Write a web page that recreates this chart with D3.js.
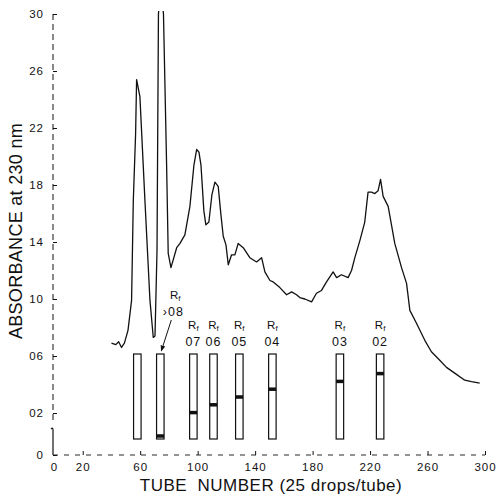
<!DOCTYPE html>
<html>
<head>
<meta charset="utf-8">
<script src="https://cdn.jsdelivr.net/npm/d3@7"></script>
<style>
  body { margin: 0; background: #fff; }
  text { font-family: "Liberation Sans", Arial, Helvetica, sans-serif; fill: #111; }
</style>
</head>
<body>
<svg id="chart" width="496" height="498"></svg>
<script>
// Elution profile: absorbance at 230 nm against tube number
const tubeNumber = [
  40, 43, 45, 47, 49, 51.5, 54, 55.2, 56.8, 57.5, 59.8, 63.3, 66.8, 69.1, 70.3,
  71.7, 72.7, 74.4, 76.2, 78.4, 79.5, 81.4, 85.4, 87.7, 91.1, 94.6, 97.4, 99.3,
  100.9, 102.3, 104.3, 105.7, 107.8, 109.9, 112, 114.3, 116.2, 117.8, 119.7,
  121.3, 123.6, 125.9, 128.2, 131.7, 136.3, 141, 144.5, 146.8, 150.3, 152.6,
  157.2, 161.9, 165.4, 168.8, 171.1, 174.6, 179.3, 182.7, 186.2, 189.7, 194.3,
  196.7, 200.1, 204.7, 207.1, 209.4, 212.9, 216.3, 218.6, 221, 223.3, 225.6,
  227.3, 229.1, 232.6, 237.2, 241.9, 245.4, 247.7, 252.3, 258.1, 262.7, 268.5,
  273.2, 278.9, 285.9, 290.6, 296.3
];
const absorbance = [
  0.69, 0.68, 0.70, 0.66, 0.69, 0.78, 0.99, 1.69, 2.16, 2.54, 2.42, 1.69, 0.99, 0.73, 0.74,
  1.34, 3.00, 3.20, 3.00, 1.93, 1.32, 1.22, 1.36, 1.39, 1.45, 1.65, 1.94, 2.05,
  2.03, 1.94, 1.62, 1.52, 1.54, 1.73, 1.82, 1.79, 1.59, 1.44, 1.38,
  1.24, 1.31, 1.31, 1.39, 1.36, 1.29, 1.26, 1.29, 1.19, 1.13, 1.12,
  1.08, 1.03, 1.05, 1.03, 1.01, 1.00, 0.98, 1.04, 1.06, 1.12, 1.19,
  1.15, 1.17, 1.15, 1.20, 1.29, 1.41, 1.54, 1.75, 1.75, 1.74, 1.76,
  1.84, 1.72, 1.65, 1.39, 1.22, 1.11, 0.92, 0.83, 0.71, 0.63, 0.57,
  0.52, 0.48, 0.43, 0.42, 0.41
];

// Polyacrylamide gels run on pooled fractions
const gelTube = [58, 74, 97, 111, 129, 152, 199, 227];
const gelRf = [null, 1.0, 0.7, 0.6, 0.5, 0.4, 0.3, 0.2];
const gelRfLabel = ["", "\u203a08", "07", "06", "05", "04", "03", "02"];

// Axis ticks and labels
const xTicks = [0, 20, 60, 100, 140, 180, 220, 260, 300];
const yTicks = [0, 0.2, 0.6, 1.0, 1.4, 1.8, 2.2, 2.6, 3.0];
const xTitle = "TUBE  NUMBER (25 drops/tube)";
const yTitle = "ABSORBANCE at 230 nm";

const svg = d3.select("#chart");

const x = d3.scaleLinear().domain([0, 300]).range([54, 485]);
// broken axis: 0 sits below the break, 0.2..3.0 above it
const y = d3.scaleLinear().domain([0, 0.2, 3.0]).range([455, 413, 14]);
// position of a band along a gel tube (origin at top)
const rfScale = d3.scaleLinear().domain([0, 1]).range([358, 436]);

const axisX0 = 53;
const ink = "#111";

// ---- y axis ----
const yAxis = d3.axisLeft(y)
  .tickValues(yTicks)
  .tickSizeInner(-4)
  .tickSizeOuter(0)
  .tickPadding(9)
  .tickFormat(v => v === 0 ? "0" : d3.format("02")(Math.round(v * 10)));
const gy = svg.append("g").attr("transform", `translate(${axisX0},0)`).call(yAxis);
gy.select(".domain").remove();
gy.selectAll(".tick line").attr("stroke", ink).attr("stroke-width", 1);
gy.selectAll(".tick text").attr("font-size", 11.5).attr("letter-spacing", 1)
  .style("font-family", "'Liberation Sans', Arial, sans-serif").attr("fill", ink);

// dashed upper part of the axis, break, solid lower part
svg.append("line")
  .attr("x1", axisX0).attr("x2", axisX0)
  .attr("y1", y(3.0)).attr("y2", 424)
  .attr("stroke", ink).attr("stroke-width", 1)
  .attr("stroke-dasharray", "6,4");
svg.append("path")
  .attr("d", `M${axisX0 - 2},429 Q${axisX0},427 ${axisX0},430 L${axisX0},${y(0)}`)
  .attr("fill", "none").attr("stroke", ink).attr("stroke-width", 1.2);

// ---- x axis ----
const xAxis = d3.axisBottom(x)
  .tickValues(xTicks)
  .tickSizeInner(-4)
  .tickSizeOuter(0)
  .tickPadding(8)
  .tickFormat(d3.format("d"));
const gx = svg.append("g").attr("transform", `translate(0,${y(0)})`).call(xAxis);
gx.select(".domain").remove();
gx.selectAll(".tick line").attr("stroke", ink).attr("stroke-width", 1)
  .attr("display", d => d === 0 ? "none" : null);
gx.selectAll(".tick text").attr("font-size", 11.5).attr("letter-spacing", 1)
  .style("font-family", "'Liberation Sans', Arial, sans-serif").attr("fill", ink);
svg.append("line")
  .attr("x1", axisX0).attr("x2", x(300))
  .attr("y1", y(0)).attr("y2", y(0))
  .attr("stroke", ink).attr("stroke-width", 0.9)
  .attr("stroke-dasharray", "5,6");

// ---- titles ----
svg.append("text")
  .attr("x", 271).attr("y", 491)
  .attr("text-anchor", "middle")
  .attr("font-size", 17)
  .attr("letter-spacing", 0.5)
  .style("white-space", "pre")
  .text(xTitle);
svg.append("text")
  .attr("transform", `translate(22,231) rotate(-90)`)
  .attr("text-anchor", "middle")
  .attr("font-size", 18)
  .attr("letter-spacing", 0.3)
  .text(yTitle);

// ---- elution curve ----
svg.append("clipPath").attr("id", "plot-clip")
  .append("rect").attr("x", 0).attr("y", 11).attr("width", 496).attr("height", 460);
const profile = tubeNumber.map((t, i) => [t, absorbance[i]]);
svg.append("path")
  .datum(profile)
  .attr("clip-path", "url(#plot-clip)")
  .attr("fill", "none")
  .attr("stroke", ink)
  .attr("stroke-width", 1.3)
  .attr("stroke-linejoin", "round")
  .attr("d", d3.line().x(d => x(d[0])).y(d => y(d[1])));

// ---- gel tubes ----
const tubeW = 7.5;
const gels = gelTube.map((t, i) => ({ t, rf: gelRf[i], label: gelRfLabel[i], i }));
const g = svg.append("g");
g.selectAll("rect.tube").data(gels).join("rect")
  .attr("class", "tube")
  .attr("x", d => x(d.t) - tubeW / 2)
  .attr("y", rfScale.range()[0] - 4)
  .attr("width", tubeW)
  .attr("height", 85)
  .attr("fill", "#fff")
  .attr("stroke", ink)
  .attr("stroke-width", 1.2);
g.selectAll("rect.band").data(gels.filter(d => d.rf != null)).join("rect")
  .attr("class", "band")
  .attr("x", d => x(d.t) - tubeW / 2)
  .attr("y", d => Math.min(rfScale(d.rf) - 1.75, 435.5))
  .attr("width", tubeW)
  .attr("height", 3.5)
  .attr("fill", ink);

// Rf labels above the tubes; the dye-front tube is labelled to the side with an arrow
const labelled = gels.filter(d => d.label);
const rfText = g.selectAll("text.rf").data(labelled).join("text")
  .attr("class", "rf")
  .attr("text-anchor", "middle")
  .attr("x", d => x(d.t) + (d.i === 1 ? 15 : 0))
  .attr("y", d => d.i === 1 ? 299 : 329);
rfText.append("tspan").attr("font-size", 11.5).text("R");
rfText.append("tspan").attr("font-size", 8).attr("dy", 1.5).text("f");
g.selectAll("text.rfv").data(labelled).join("text")
  .attr("class", "rfv")
  .attr("text-anchor", "middle")
  .attr("x", d => x(d.t) + (d.i === 1 ? 13 : 0))
  .attr("y", d => d.i === 1 ? 316 : 346)
  .attr("font-size", 12.5)
  .attr("letter-spacing", 1)
  .text(d => d.label);

svg.append("defs").append("marker")
  .attr("id", "arrow").attr("viewBox", "0 0 10 10")
  .attr("refX", 9).attr("refY", 5)
  .attr("markerWidth", 6).attr("markerHeight", 6)
  .attr("orient", "auto")
  .append("path").attr("d", "M0,1 L10,5 L0,9 Z").attr("fill", ink);
const dyeTube = gels[1];
svg.append("line")
  .attr("x1", x(dyeTube.t) + 11).attr("y1", 320)
  .attr("x2", x(dyeTube.t) + 1).attr("y2", 351)
  .attr("stroke", ink).attr("stroke-width", 1)
  .attr("marker-end", "url(#arrow)");
</script>
</body>
</html>
